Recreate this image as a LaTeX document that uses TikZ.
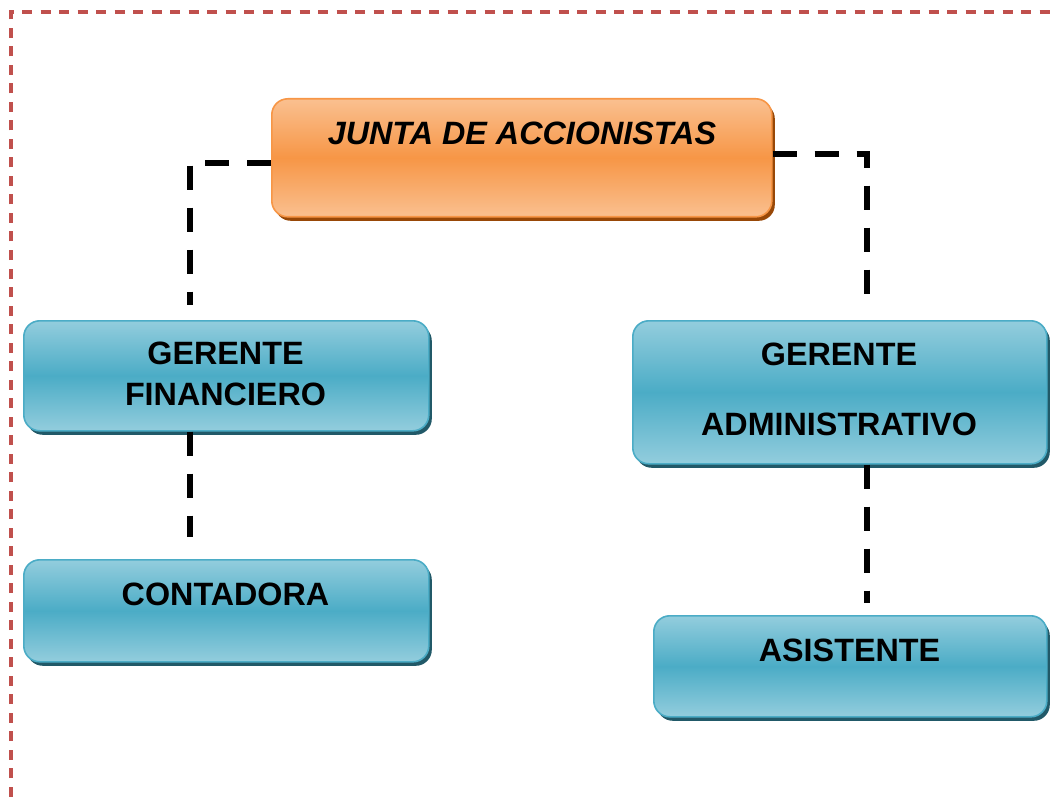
\documentclass[tikz,border=0pt]{standalone}
\usepackage{fontspec}
\setmainfont{Liberation Sans}
\usetikzlibrary{shadows}
\definecolor{frame}{HTML}{C0504D}
\definecolor{olight}{HTML}{FAC090}
\definecolor{omid}{HTML}{F79646}
\definecolor{oedge}{HTML}{F79646}
\definecolor{oshadow}{HTML}{984807}
\definecolor{blight}{HTML}{93CDDD}
\definecolor{bmid}{HTML}{4BACC6}
\definecolor{bedge}{HTML}{4BACC6}
\definecolor{bshadow}{HTML}{215968}
\tikzset{
  boxbase/.style={rounded corners=16pt, line width=1.6pt, anchor=north west, inner sep=0pt},
  orangebox/.style={boxbase, draw=oedge, top color=olight, bottom color=olight, middle color=omid,
     general shadow={fill=oshadow, shadow xshift=3pt, shadow yshift=-4pt}},
  bluebox/.style={boxbase, draw=bedge, top color=blight, bottom color=blight, middle color=bmid,
     general shadow={fill=bshadow, shadow xshift=3pt, shadow yshift=-4pt}},
  lbl/.style={font=\fontsize{32.3}{41}\selectfont\bfseries, align=center, inner sep=0pt, text=black},
  conn/.style={draw=black, line width=5.5pt, dash pattern=on 24pt off 18pt},
}
\begin{document}
\begin{tikzpicture}[x=1pt,y=-1pt]
\useasboundingbox (0,0) rectangle (1055,805);
\begin{scope}
\clip (0,0) rectangle (1055,805);
\draw[frame, line width=3.5pt, dash pattern=on 10pt off 8.5pt] (11,1000) -- (11,12) -- (1100,12);
\end{scope}

\node[orangebox, minimum width=500pt, minimum height=118pt] (j) at (271,98) {};
\node[bluebox, minimum width=405pt, minimum height=110pt] (gf) at (23,320) {};
\node[bluebox, minimum width=405pt, minimum height=102pt] (cont) at (23,559) {};
\node[bluebox, minimum width=414pt, minimum height=143pt] (ga) at (632,320) {};
\node[bluebox, minimum width=393pt, minimum height=101pt] (asis) at (653,615) {};

\node[lbl, font=\fontsize{32.3}{41}\selectfont\bfseries\itshape] (jt) at (522,133) {JUNTA DE ACCIONISTAS};
\node[lbl] (gft) at (225.5,374) {GERENTE\\FINANCIERO};
\node[lbl] (contt) at (225.5,594) {CONTADORA};
\node[lbl] (gat) at (839,389) {GERENTE\\[29pt]ADMINISTRATIVO};
\node[lbl] (asist) at (849.5,650) {ASISTENTE};

\draw[conn] ([yshift=-5pt]j.west) -| ([xshift=-36.5pt,yshift=15pt]gf.north);
\draw[conn] ([yshift=4pt]j.east) -| ([xshift=27pt,yshift=18pt]ga.north);
\draw[conn] ([xshift=-36.5pt]gf.south) -- ([xshift=-36.5pt,yshift=22pt]cont.north);
\draw[conn] ([xshift=27pt]ga.south) -- ([xshift=16.5pt,yshift=12pt]asis.north);
\end{tikzpicture}
\end{document}
